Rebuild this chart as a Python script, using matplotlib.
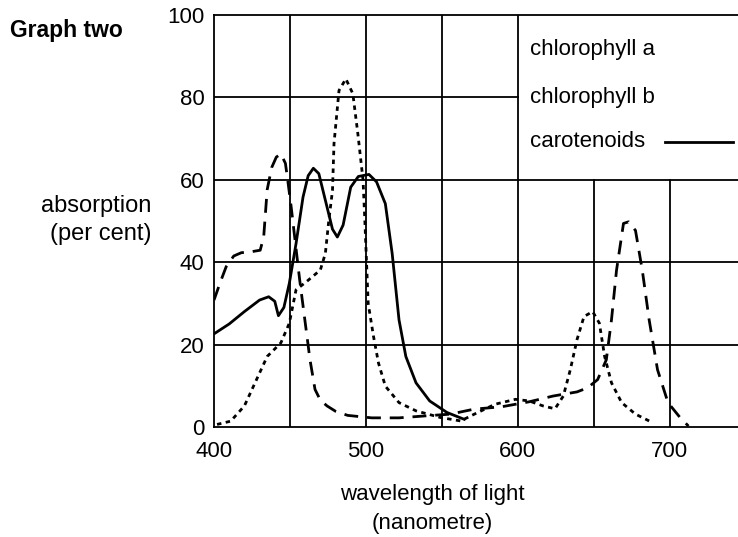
"""Absorption spectra of photosynthetic pigments (Graph two)."""
import matplotlib
matplotlib.use('Agg')
import matplotlib.pyplot as plt

plt.rcParams['font.family'] = ['Liberation Sans', 'DejaVu Sans']

# wavelength (nm) / absorption (per cent)
carot_x = [400, 410, 420, 430, 436, 440, 442.4, 446, 449.6, 454, 458.6, 462, 465.4,
           469, 474, 478, 481.2, 485, 490, 495, 502, 507, 512.8, 517.3, 521.8,
           526.3, 533, 542, 553.4, 564.7]
carot_y = [22.6, 25, 28, 30.8, 31.6, 30.5, 27.0, 29, 34.9, 44.5, 55.8, 61, 62.8,
           61.5, 54, 48, 46.1, 49, 58.2, 60.8, 61.3, 59.5, 54.2, 42.1, 26,
           17.1, 10.7, 6.3, 3.5, 1.85]

chl_a_x = [400, 404, 408, 413, 418, 424, 430.4, 432.7, 435, 438, 441, 444, 447, 448.5,
           450.8, 456.4, 459.8, 463.2, 466.5, 470, 474.4, 480, 488, 503.8, 521.8,
           540, 555.6, 571, 589.5, 607.5, 623.3, 639, 646, 652.6, 658.3, 661.7,
           665, 669.6, 673, 677.5, 682, 686.5, 692, 698.9, 706.8, 712.4]
chl_a_y = [30.8, 35, 38.9, 41.5, 42.3, 42.5, 42.9, 46.1, 57.6, 63, 65.5, 66.3, 64, 60,
           53.4, 35.7, 26, 16.3, 9.1, 6.5, 5.1, 3.8, 2.8, 2.2, 2.2,
           2.7, 3.1, 4.3, 4.9, 6.1, 7.5, 8.5, 9.5, 11.5, 16.3, 26,
           38, 49.4, 49.8, 47.7, 38, 26, 13.9, 5.9, 2.3, 0.2]

chl_b_x = [402, 411, 420, 427, 435, 444, 449.6, 454, 461, 470, 473.3, 475.6, 478,
           479, 482.3, 486.8, 491.4, 494.7, 498.1, 499.3, 501.5, 505, 508.3, 512.8,
           521.8, 533, 548.9, 562.4, 571.4, 585, 598.5, 607.5, 616.6, 624.5, 630,
           634.6, 639, 643.6, 649.3, 653.7, 657.2, 661.7, 668.4, 677.5, 686.5]
chl_b_y = [0.6, 1.4, 5.1, 10.7, 17.1, 20.4, 25.2, 33.3, 35.3, 38.1, 42.1, 50.2, 57.4,
           68.8, 81.7, 84.5, 80.9, 71.2, 60, 50.2, 30, 22, 15.5, 9.9,
           5.9, 3.9, 2.3, 1.45, 3.1, 5.5, 6.7, 6.3, 5.1, 4.4, 7.5,
           13.9, 21.2, 26.8, 28, 25.2, 17.1, 10.7, 5.9, 3.1, 1.45]

x_ticks = [400, 500, 600, 700]
y_ticks = [0, 20, 40, 60, 80, 100]
legend_labels = ['chlorophyll a', 'chlorophyll b', 'carotenoids']

FS = 16

fig = plt.figure(figsize=(7.38, 5.37), dpi=100)
ax = fig.add_axes([0.29, 0.205, 0.71, 0.767])
ax.set_xlim(400, 745)
ax.set_ylim(0, 100)

# grid drawn by hand so the legend corner stays clear
lw = 1.3
for xv in [450, 500, 550, 600]:
    ax.plot([xv, xv], [0, 100], color='black', lw=lw, zorder=1)
for xv in [650, 700]:
    ax.plot([xv, xv], [0, 60], color='black', lw=lw, zorder=1)
for yv in [20, 40, 60]:
    ax.plot([400, 745], [yv, yv], color='black', lw=lw, zorder=1)
ax.plot([400, 600], [80, 80], color='black', lw=lw, zorder=1)

style = dict(color='black', lw=2.0, solid_joinstyle='round', dash_joinstyle='round',
             zorder=3)
ax.plot(chl_a_x, chl_a_y, dashes=(5.0, 3.2), **style)
ax.plot(chl_b_x, chl_b_y, dashes=(1.6, 1.6), **style)
ax.plot(carot_x, carot_y, **style)

# legend written in the corner box
for lab, yv in zip(legend_labels, [91.6, 80.0, 69.4]):
    ax.text(608, yv, lab, fontsize=FS, va='center', ha='left')
ax.plot([697, 741.5], [69.2, 69.2], color='black', lw=2.0)

ax.spines['right'].set_visible(False)
for side in ['left', 'bottom', 'top']:
    ax.spines[side].set_linewidth(lw)

ax.set_xticks(x_ticks)
ax.set_yticks(y_ticks)
ax.tick_params(length=0, labelsize=FS)
ax.tick_params(axis='x', pad=10)
ax.tick_params(axis='y', pad=7)

fig.text(432 / 738, 1 - 509 / 537, 'wavelength of light\n(nanometre)', fontsize=FS,
         ha='center', va='center', linespacing=1.45)
fig.text(96 / 738, 1 - 220 / 537, 'absorption\n(per cent)', fontsize=17,
         ha='center', va='center', multialignment='right', linespacing=1.35)
fig.text(10 / 738, 1 - 30 / 537, 'Graph two', fontsize=16.5, fontweight='bold',
         ha='left', va='center')

fig.savefig('out.png', dpi=100)
